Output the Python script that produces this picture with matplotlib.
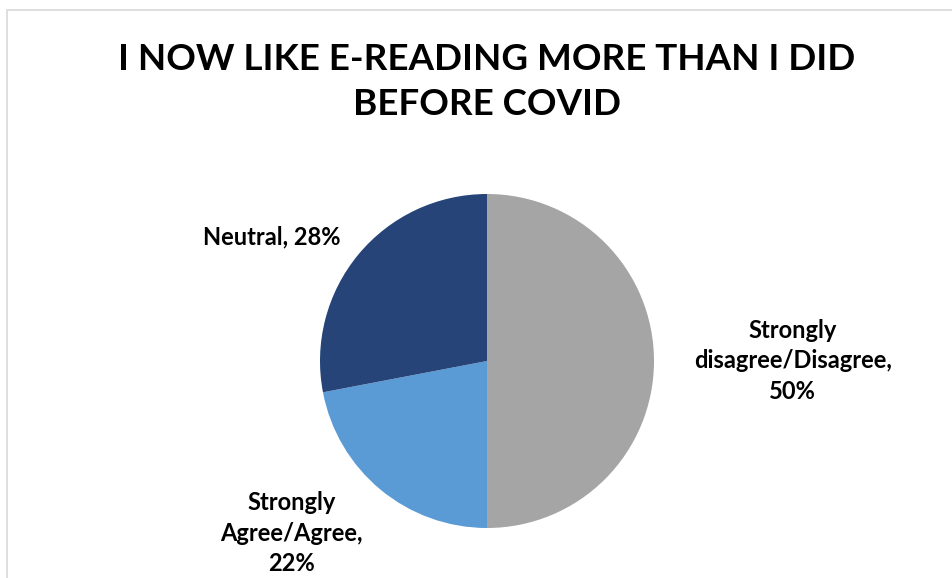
import numpy as np
import matplotlib.pyplot as plt
from matplotlib.patches import Rectangle

title = "I NOW LIKE E-READING MORE THAN I DID\nBEFORE COVID"
categories = ["Strongly\ndisagree/Disagree,", "Strongly\nAgree/Agree,", "Neutral,"]
shares = [50, 22, 28]
colors = ["#A5A5A5", "#5B9BD5", "#264478"]

# label centres in units of the pie radius, relative to the centre
label_pos = [(1.83, 0.0), (-1.17, -1.03), (-1.29, 0.74)]

W, H = 952, 578
fig = plt.figure(figsize=(W / 100, H / 100), dpi=100)
plt.rcParams['font.family'] = ['Lato', 'DejaVu Sans']

# chart frame (right and bottom edges fall outside the picture)
fig.patches.append(Rectangle((6.5 / W, -0.1), 1, 1.1 - 9.5 / H, transform=fig.transFigure,
                             fill=False, edgecolor="#D9D9D9", linewidth=1.2))

fig.text(487 / W, 1 - 82 / H, title, ha="center", va="center",
         fontsize=26.5, fontweight="bold", linespacing=1.45, color="#000000")

cx, cy, r = 487, 361, 167
ax = fig.add_axes([(cx - r) / W, (H - cy - r) / H, 2 * r / W, 2 * r / H])
ax.pie(shares, colors=colors, startangle=90, counterclock=False, radius=1,
       wedgeprops=dict(linewidth=0))
ax.set_xlim(-1, 1)
ax.set_ylim(-1, 1)
ax.set_aspect("equal")
ax.axis("off")

for cat, val, (x, y) in zip(categories, shares, label_pos):
    ax.text(x, y, f"{cat} {val}%" if "\n" not in cat else f"{cat}\n{val}%",
            ha="center", va="center", fontsize=17, fontweight="bold",
            linespacing=1.4, color="#000000", clip_on=False)

fig.savefig("out.png", dpi=100)
